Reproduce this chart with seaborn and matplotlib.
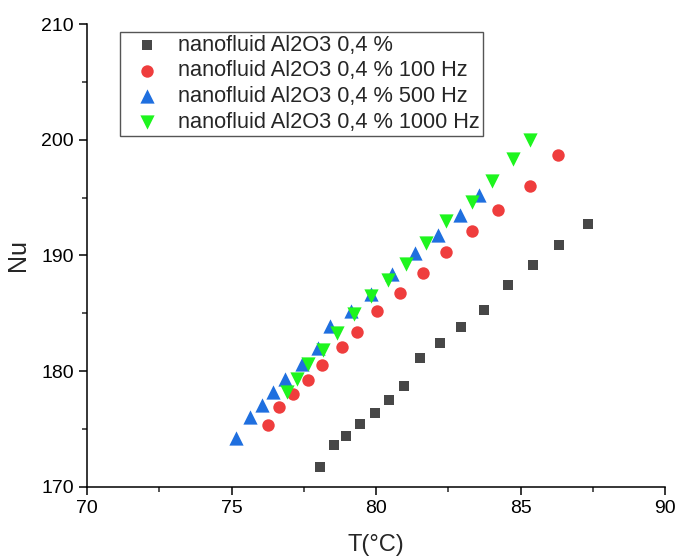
import pandas as pd
import seaborn as sns
import matplotlib.pyplot as plt
from matplotlib.ticker import MultipleLocator

# --- data ---
t_base = [78.06, 78.54, 78.94, 79.45, 79.95, 80.46, 80.95, 81.52, 82.22, 82.94,
          83.74, 84.55, 85.43, 86.33, 87.32]
nu_base = [171.7, 173.6, 174.4, 175.4, 176.4, 177.5, 178.7, 181.1, 182.4, 183.8,
           185.25, 187.45, 189.2, 190.9, 192.75]

t_100 = [76.25, 76.64, 77.13, 77.63, 78.12, 78.81, 79.33, 80.04, 80.83, 81.63,
         82.42, 83.33, 84.22, 85.31, 86.31]
nu_100 = [175.3, 176.9, 178.0, 179.25, 180.55, 182.1, 183.4, 185.2, 186.75, 188.5,
          190.3, 192.15, 193.9, 196.0, 198.65]

t_500 = [75.14, 75.63, 76.04, 76.44, 76.85, 77.42, 77.99, 78.42, 79.12, 79.81,
         80.55, 81.33, 82.15, 82.91, 83.56]
nu_500 = [174.2, 176.0, 177.1, 178.2, 179.3, 180.6, 182.0, 183.9, 185.2, 186.7,
          188.4, 190.2, 191.8, 193.45, 195.2]

t_1000 = [76.92, 77.25, 77.63, 78.15, 78.63, 79.24, 79.81, 80.41, 81.03, 81.73,
          82.42, 83.32, 84.01, 84.74, 85.34]
nu_1000 = [178.2, 179.3, 180.6, 181.85, 183.25, 184.9, 186.45, 187.85, 189.25, 191.1,
           192.95, 194.65, 196.45, 198.3, 199.95]

labels = ['nanofluid Al2O3 0,4 %', 'nanofluid Al2O3 0,4 % 100 Hz',
          'nanofluid Al2O3 0,4 % 500 Hz', 'nanofluid Al2O3 0,4 % 1000 Hz']

sns.set_style('ticks')
plt.rcParams['font.family'] = ['Liberation Sans', 'DejaVu Sans']

series = [
    (t_base, nu_base, 's', '#474747', 62),
    (t_100, nu_100, 'o', '#EF3D3D', 80),
    (t_500, nu_500, '^', '#1F6FDF', 105),
    (t_1000, nu_1000, 'v', '#1EF51E', 105),
]

fig = plt.figure(figsize=(6.76, 5.56), dpi=100)
ax = fig.add_axes([0.1291, 0.1246, 0.8546, 0.8322])

for (t, nu, m, c, s), lab in zip(series, labels):
    df = pd.DataFrame({'T': t, 'Nu': nu})
    sns.scatterplot(data=df, x='T', y='Nu', marker=m, color=c, s=s,
                    linewidth=0, label=lab, ax=ax)

ax.set_xlim(70, 90)
ax.set_ylim(170, 210)
ax.xaxis.set_major_locator(MultipleLocator(5))
ax.xaxis.set_minor_locator(MultipleLocator(2.5))
ax.yaxis.set_major_locator(MultipleLocator(10))
ax.yaxis.set_minor_locator(MultipleLocator(5))

for side in ['top', 'right']:
    ax.spines[side].set_visible(False)
for side in ['left', 'bottom']:
    ax.spines[side].set_linewidth(1.1)
    ax.spines[side].set_color('black')

ax.tick_params(which='major', direction='out', length=6, width=1.1,
               labelsize=14, colors='black')
ax.tick_params(which='minor', direction='out', length=3.5, width=1.1)

ax.set_xlabel('T(°C)', fontsize=17, labelpad=12)
ax.set_ylabel('Nu', fontsize=18, labelpad=8)

leg = ax.legend(loc='upper left', bbox_to_anchor=(0.057, 0.983), borderaxespad=0,
                fontsize=15.7, frameon=True, fancybox=False, framealpha=1,
                edgecolor='#555555', handletextpad=0.35, labelspacing=0.22,
                borderpad=0.12, handlelength=2.2)
leg.get_frame().set_linewidth(1.0)

plt.savefig('out.png', dpi=100)
plt.close()
